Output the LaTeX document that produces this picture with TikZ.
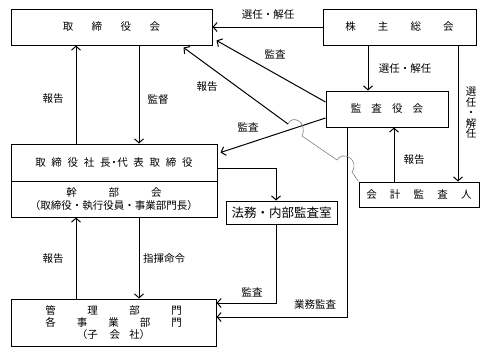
\documentclass[tikz,border=0pt]{standalone}
\usepackage{fontspec}
\setmainfont{Noto Sans CJK JP}
\usepackage{tikz}
\usetikzlibrary{arrows.meta,calc}
\tikzset{
  orgbox/.style ={rectangle, draw=black, line width=1pt, inner sep=0pt,
                  align=center, font=\fontsize{10.5}{12}\selectfont},
  flow/.style   ={-{Straight Barb[length=4pt,width=9pt]}, line width=1pt},
  line/.style   ={line width=1pt},
  hop/.style    ={draw=black!50, line width=0.6pt},
  tag/.style    ={font=\fontsize{10.5}{12}\selectfont, inner sep=1pt}
}

\begin{document}
\begin{tikzpicture}[x=1pt, y=-1pt]
  \useasboundingbox (0,0) rectangle (488,357);

  % ---------------- Boxes ----------------
  \node[orgbox, minimum width=201pt, minimum height=36pt] (board) at (111.5,27)
       {\makebox[97.5pt][s]{取\hfill 締\hfill 役\hfill 会}};
  \node[orgbox, minimum width=153pt, minimum height=36pt] (share) at (399.5,27)
       {\makebox[108.5pt][s]{株\hfill 主\hfill 総\hfill 会}};
  \node[orgbox, minimum width=122pt, minimum height=36pt] (audit) at (387,109)
       {\makebox[72.5pt][s]{監\hfill 査\hfill 役\hfill 会}};
  \node[orgbox, minimum width=206pt, minimum height=37pt] (pres)  at (114,162.5)
       {\makebox[157.5pt][s]{取\hfill 締\hfill 役\hfill 社\hfill 長\hspace{-2pt}・\hspace{-2pt}代\hfill 表\hfill 取\hfill 締\hfill 役}};
  \node[orgbox, minimum width=206pt, minimum height=36pt,
        font=\fontsize{10.5}{13}\selectfont] (exec) at (114,199)
       {\makebox[95.5pt][s]{幹\hfill 部\hfill 会}\\（取締役・執行役員・事業部門長）};
  \node[orgbox, minimum width=111pt, minimum height=23pt,
        font=\fontsize{12.5}{14}\selectfont] (legal) at (281.5,212.5)
       {法務・内部監査室};
  \node[orgbox, minimum width=120pt, minimum height=25pt] (acct)  at (419,194.5)
       {\makebox[105.5pt][s]{会\hfill 計\hfill 監\hfill 査\hfill 人}};
  \node[orgbox, minimum width=205pt, minimum height=47pt] (dept)  at (113.5,322.5)
       {\makebox[136.5pt][s]{管\hfill 理\hfill 部\hfill 門}\\
        \makebox[136.5pt][s]{各\hfill 事\hfill 業\hfill 部\hfill 門}\\
        （子\hspace{12pt}会\hspace{9pt}社）};

  % ---------------- Shareholders ----------------
  \draw[flow] (share.west) -- (board.east);
  \node[tag] (t1) at (268,15) {選任・解任};
  \draw[flow] (share.south -| 368,0) -- (audit.north -| 368,0);
  \node[tag] (t2) at (405,69) {選任・解任};
  \draw[flow] (share.south -| 458,0) -- (acct.north -| 458,0);
  \node[tag, font=\fontsize{10.5}{10.5}\selectfont, align=center] (t3)
       at (471,113) {選\\任\\・\\解\\任};

  % ---------------- Audit board ----------------
  \draw[flow] ([yshift=7pt]audit.west) -- ([xshift=4pt,yshift=5pt]board.south east);
  \node[tag] (t4) at (275,54) {監査};
  \draw[flow] ([yshift=-9pt]audit.west) -- ([xshift=3pt,yshift=-9pt]pres.north east);
  \node[tag] (t5) at (248,127) {監査};
  \draw[flow] (acct.north -| 394,0) -- (audit.south -| 394,0);
  \node[tag] (t6) at (414,160) {報告};
  \draw[flow] (audit.south -| 347,0) |- ([yshift=5.5pt]dept.east);
  \node[tag] (t7) at (315,304) {業務監査};

  % ---------------- Auditor report (gray where it crosses) ----------------
  \coordinate (rep) at (288,124);
  \draw[hop] (acct.north west) -- (352,172)
       .. controls (360,160) and (343,150) .. (337,160) -- (302,136)
       .. controls (308,122) and (292,114) .. (rep);
  \draw[flow] (rep) -- ([xshift=-29pt,yshift=-2pt]board.south east);
  \node[tag] (t8) at (207,87) {報告};

  % ---------------- Line of command ----------------
  \draw[flow] (pres.north -| 76,0) -- (board.south -| 76,0);
  \node[tag] (t9) at (53,99) {報告};
  \draw[flow] (board.south -| 139,0) -- (pres.north -| 139,0);
  \node[tag] (t10) at (158,100) {監督};
  \draw[flow] (dept.north -| 76,0) -- (exec.south -| 76,0);
  \node[tag] (t11) at (53,259) {報告};
  \draw[flow] (exec.south -| 139,0) -- (dept.north -| 139,0);
  \node[tag] (t12) at (164,259) {指揮命令};
  \draw[flow] ([yshift=-5.5pt]pres.east) -| ([xshift=-5.5pt]legal.north);
  \draw[flow] ([xshift=-5.5pt]legal.south) |- ([yshift=19.5pt]dept.east);
  \node[tag] (t13) at (252,292) {監査};
\end{tikzpicture}
\end{document}
